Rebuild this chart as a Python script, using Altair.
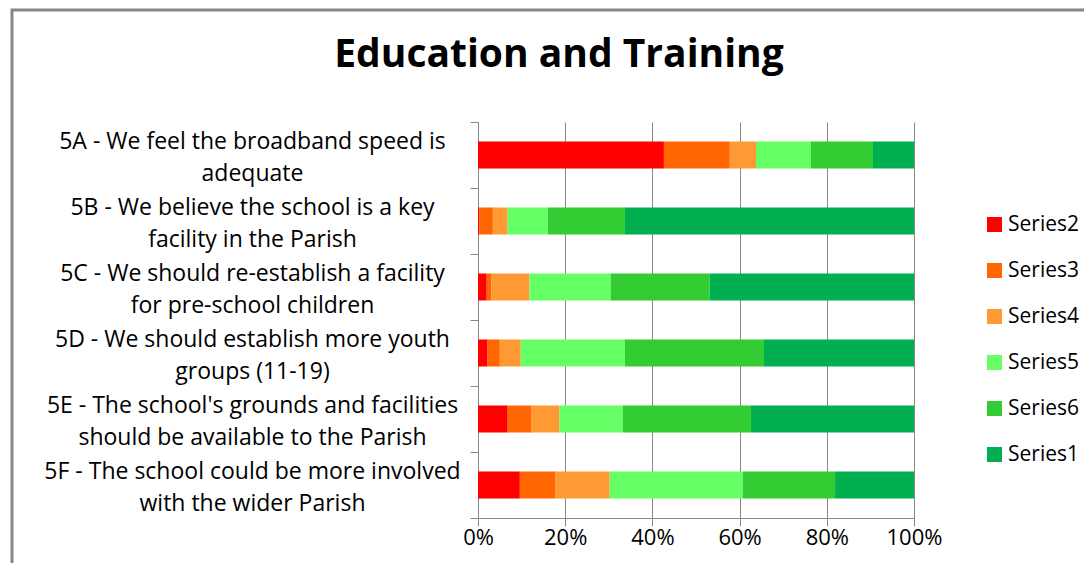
import altair as alt
import pandas as pd

categories = [
    "5A - We feel the broadband speed is|adequate",
    "5B - We believe the school is a key|facility in the Parish",
    "5C - We should re-establish a facility|for pre-school children",
    "5D - We should establish more youth|groups (11-19)",
    "5E - The school's grounds and facilities|should be available to the Parish",
    "5F - The school could be more involved|with the wider Parish",
]
series_names = ["Series2", "Series3", "Series4", "Series5", "Series6", "Series1"]
series_colors = ["#FF0000", "#FF6600", "#FF9933", "#66FF66", "#33CC33", "#00B050"]

series2 = [42.6, 0.3, 2.0, 2.2, 6.8, 9.6]
series3 = [15.1, 3.1, 1.1, 2.8, 5.5, 8.2]
series4 = [6.0, 3.4, 8.7, 4.8, 6.4, 12.4]
series5 = [12.6, 9.2, 18.6, 23.9, 14.5, 30.5]
series6 = [14.2, 17.7, 22.7, 31.9, 29.4, 21.2]
series1 = [9.4, 66.3, 46.8, 34.4, 37.4, 18.1]

title_text = "Education and Training"
x_ticks = [0, 0.2, 0.4, 0.6, 0.8, 1.0]

series_values = [series2, series3, series4, series5, series6, series1]
rows = []
for si, (name, vals) in enumerate(zip(series_names, series_values)):
    for cat, v in zip(categories, vals):
        rows.append({"category": cat, "series": name, "value": v, "order": si})
df = pd.DataFrame(rows)

FONT = "Open Sans"
GRID = "#888888"

bars = alt.Chart(df).mark_bar(size=27).encode(
    x=alt.X(
        "value:Q",
        stack="normalize",
        scale=alt.Scale(domain=[0, 1], nice=False),
        axis=alt.Axis(
            values=x_ticks,
            format=".0%",
            title=None,
            grid=True,
            gridColor=GRID,
            gridWidth=1,
            domainColor=GRID,
            domainWidth=1,
            tickColor=GRID,
            tickSize=8,
            labelFont=FONT,
            labelFontSize=22,
            labelColor="#000000",
            labelPadding=1,
            labelFlush=False,
            labelOverlap=False,
        ),
    ),
    y=alt.Y(
        "category:N",
        sort=categories,
        scale=alt.Scale(paddingInner=0, paddingOuter=0),
        axis=alt.Axis(
            title=None,
            grid=False,
            tickBand="extent",
            tickSize=8,
            tickColor=GRID,
            domainColor=GRID,
            domainWidth=1,
            labelExpr="split(datum.label, '|')",
            labelFont=FONT,
            labelFontSize=23,
            labelColor="#000000",
            labelAlign="center",
            labelBaseline="middle",
            labelLineHeight=32,
            labelOffset=-14,
            labelPadding=218,
            labelLimit=500,
        ),
    ),
    color=alt.Color(
        "series:N",
        scale=alt.Scale(domain=series_names, range=series_colors),
        legend=alt.Legend(
            title=None,
            orient="none",
            legendX=506,
            legendY=92,
            padding=0,
            symbolType="square",
            symbolSize=225,
            symbolStrokeWidth=0,
            labelFont=FONT,
            labelFontSize=21,
            labelColor="#000000",
            labelOffset=3,
            rowPadding=24,
        ),
    ),
    order=alt.Order("order:Q"),
)

frame = alt.Chart(pd.DataFrame({"k": [0]})).mark_rect(
    fillOpacity=0, stroke="#878787", strokeWidth=3
).encode(
    x=alt.value(-466), x2=alt.value(800), y=alt.value(-112), y2=alt.value(600)
)

title = alt.Chart(pd.DataFrame({"t": [title_text]})).mark_text(
    font=FONT, fontSize=39, fontWeight="bold", color="#000000",
    align="center", baseline="alphabetic"
).encode(
    x=alt.value(81), y=alt.value(-55), text="t:N"
)

chart = alt.layer(frame, bars, title).properties(
    width=436,
    height=396,
    autosize=alt.AutoSizeParams(type="none"),
    padding={"left": 470, "top": 114, "right": 170, "bottom": 45},
    background="#FFFFFF",
).configure_view(strokeWidth=0)

chart.save("out.html", embed_options={"renderer": "svg", "actions": False})
